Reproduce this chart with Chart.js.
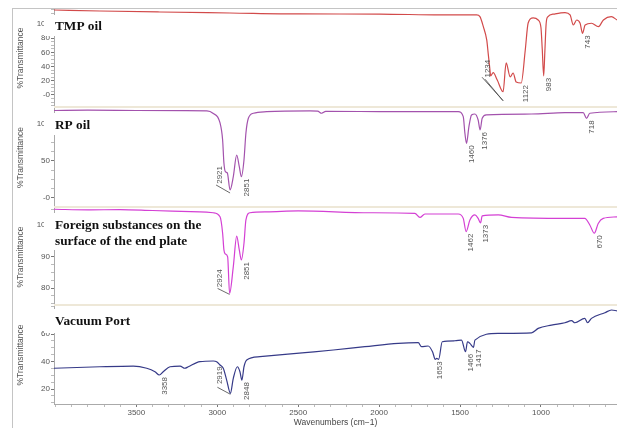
<!DOCTYPE html>
<html>
<head>
<meta charset="utf-8">
<script src="https://cdn.jsdelivr.net/npm/chart.js@4.4.0/dist/chart.umd.min.js"></script>
<style>
  body { margin: 0; background: #fff; }
  #wrap { position: relative; width: 617px; height: 428px; overflow: hidden; background: #fff; }
  canvas { position: absolute; left: 13px; }
  .frameL { position: absolute; left: 12px; top: 8px; width: 1px; height: 420px; background: #c4c4c4; z-index: 2; }
  .frameT { position: absolute; left: 12px; top: 8px; width: 605px; height: 1px; background: #c4c4c4; z-index: 2; }
  .sep { position: absolute; left: 54px; width: 563px; height: 2px; background: #eee8d8; z-index: 2; }
</style>
</head>
<body>
<div id="wrap">
  <canvas id="p1" width="604" height="98" style="top:9px"></canvas>
  <canvas id="p2" width="604" height="99" style="top:108px"></canvas>
  <canvas id="p3" width="604" height="98" style="top:208px"></canvas>
  <canvas id="p4" width="604" height="122" style="top:306px"></canvas>
  <div class="frameL"></div>
  <div class="frameT"></div>
  <div class="sep" style="top:106px"></div>
  <div class="sep" style="top:206px"></div>
  <div class="sep" style="top:304px"></div>
</div>
<script>
// wavenumber range shown (cm-1), drawn right-to-left
const xMin = 530, xMax = 4009;
const xLabels = [3500, 3000, 2500, 2000, 1500, 1000];

// spectra: [wavenumber, %T]
const tmpOil = [[4009,119.7],[3725,118.3],[3354,116.9],[2922,115.5],[2489,114.1],[1995,114],[1624,112.7],[1397,112.7],[1377,110.3],[1356,96.2],[1335,77.5],[1326,58.7],[1315,35.2],[1311,26.8],[1295,31.4],[1270,21.1],[1234,4.6],[1215,45.1],[1190,25.4],[1172,31],[1153,18.3],[1122,16.9],[1097,63],[1079,101.4],[1048,108.5],[1017,105.6],[1000,95],[992,65],[983,27],[976,60],[968,100],[958,110],[920,114],[851,115.9],[820,112.7],[800,98.6],[779,105.6],[758,101],[743,86.9],[727,98.6],[687,101],[645,96.2],[614,105.6],[565,110.3],[530,105.6]];
const rpOil = [[4009,118.2],[3800,118.6],[3500,118.2],[3200,118],[3064,117.8],[3027,114.5],[2983,101.4],[2967,78.4],[2959,47.3],[2950,35.5],[2938,33.8],[2921,10.8],[2901,28.8],[2880,58.1],[2864,42.3],[2851,28.8],[2835,51.4],[2823,87.8],[2808,107.7],[2777,114.5],[2695,116.6],[2427,117.6],[2380,117.4],[2355,114.5],[2330,117],[2000,116.8],[1600,116.6],[1511,116.6],[1480,109.9],[1470,87.8],[1460,73.9],[1445,96.4],[1429,112.2],[1408,113.5],[1388,105.4],[1376,91.9],[1363,107.7],[1337,112.2],[1058,113.5],[852,115.3],[739,115.3],[718,107.7],[698,114.5],[530,116.6]];
const foreign = [[4009,105.0],[3800,104.8],[3600,104.9],[3400,104.6],[3107,104.2],[3025,103.9],[2983,102.6],[2967,97.4],[2959,92.1],[2950,90.8],[2936,89.9],[2924,78.3],[2901,86.8],[2880,96.5],[2864,92.1],[2851,88.9],[2835,94.2],[2823,101.6],[2798,103.9],[2695,104.2],[2500,104.5],[2057,103.9],[1779,103.7],[1748,102.4],[1717,103.5],[1511,103.5],[1480,102.1],[1462,97.9],[1439,101.6],[1408,103.2],[1388,102.1],[1373,100.7],[1363,102.9],[1264,103.2],[1182,102.4],[852,102.1],[729,102.1],[698,100],[670,97.4],[646,100.5],[615,102.1],[530,102.6]];
const vacuumPort = [[4009,35.1],[3725,36.2],[3519,36.7],[3436,35.1],[3385,32.6],[3358,30.2],[3334,32.6],[3292,36.2],[3230,36.7],[3200,35.1],[3179,36.2],[3107,39.9],[3025,40.4],[3004,39.9],[2983,37.5],[2963,35.1],[2942,26.5],[2919,16.9],[2901,27.8],[2876,36.2],[2860,32.6],[2848,26.5],[2835,36.2],[2818,41.1],[2736,43.5],[2458,46.5],[2283,48.4],[2088,50.8],[1882,53.2],[1758,53.7],[1738,50.8],[1697,51.3],[1670,47.1],[1653,41.6],[1645,42.3],[1632,41.6],[1610,54.4],[1532,55.1],[1491,55.6],[1466,47.1],[1454,54.4],[1439,53.2],[1417,50.3],[1408,55.6],[1264,60.5],[1058,60.9],[1017,64.1],[935,66.5],[852,68.2],[811,69.7],[790,68.2],[729,71.4],[712,68.2],[688,71.4],[605,75.5],[564,77.5],[530,76.9]];

// y tick values per panel
const tmpTicks = [0, 20, 40, 60, 80, 100];
const rpTicks = [0, 50, 100];
const foreignTicks = [80, 90, 100];
const vacuumTicks = [20, 40, 60];

// labelled peaks per panel
const tmpPeaks = [1234, 1122, 983, 743];
const rpPeaks = [2921, 2851, 1460, 1376, 718];
const foreignPeaks = [2924, 2851, 1462, 1373, 670];
const vacuumPeaks = [3358, 2919, 2848, 1653, 1466, 1417];

// label placement for peaks that use a leader line
const leaders = {
  1234: { dx: -15, dy: -32, lines: [[0, 9, -21, -14.5], [0, 9, -18, -12.5]] },
  2921: { dx: -10.5, dy: -24, lines: [[0, 3, -14, -5]] },
  2924: { dx: -10, dy: -24, lines: [[0, 1, -12, -5]] },
  2919: { dx: -11, dy: -27, lines: [[0, 1, -13, -6]] }
};

const tickFont = { family: '"Liberation Sans", Arial, sans-serif', size: 8 };
const fmt = v => v === 0 ? '-0' : String(v);

const decor = {
  id: 'decor',
  afterDraw(chart, args, o) {
    const ctx = chart.ctx;
    const xs = chart.scales.x, ys = chart.scales.y;
    const pts = chart.data.datasets[0].data;
    ctx.save();
    ctx.font = '8px "Liberation Sans", Arial, sans-serif';
    ctx.fillStyle = '#555';
    ctx.strokeStyle = '#444';
    ctx.lineWidth = 0.8;
    o.peaks.forEach(wn => {
      const p = pts.find(d => d.x === wn);
      const px = xs.getPixelForValue(p.x), py = ys.getPixelForValue(p.y);
      const s = leaders[wn] || { dx: 5, dy: 2, lines: [] };
      s.lines.forEach(l => {
        ctx.beginPath();
        ctx.moveTo(px + l[0], py + l[1]);
        ctx.lineTo(px + l[2], py + l[3]);
        ctx.stroke();
      });
      ctx.save();
      ctx.translate(px + s.dx, py + s.dy);
      ctx.rotate(-Math.PI / 2);
      ctx.textAlign = 'right';
      ctx.textBaseline = 'middle';
      ctx.fillText(String(wn), 0, 0);
      ctx.restore();
    });
    // pasted title box
    const b = o.box;
    ctx.fillStyle = '#fff';
    ctx.fillRect(b[0], b[1], b[2], b[3]);
    ctx.fillStyle = '#111';
    ctx.font = 'bold 13.3px "Liberation Serif", "Times New Roman", serif';
    ctx.textAlign = 'left';
    ctx.textBaseline = 'alphabetic';
    o.title.forEach((t, i) => ctx.fillText(t, 42, o.titleY + i * 16));
    ctx.restore();
  }
};

function makePanel(id, p) {
  const majors = p.ticks;
  const step = (majors[1] - majors[0]) / 4;
  return new Chart(document.getElementById(id), {
    type: 'line',
    data: {
      datasets: [{
        data: p.data.map(d => ({ x: d[0], y: d[1] })),
        borderColor: p.color,
        borderWidth: 1.2,
        pointRadius: 0,
        cubicInterpolationMode: 'monotone',
        fill: false
      }]
    },
    options: {
      responsive: false,
      animation: false,
      devicePixelRatio: 1,
      layout: { padding: 0 },
      plugins: {
        legend: { display: false },
        tooltip: { enabled: false },
        decor: { peaks: p.peaks, box: p.box, title: p.title, titleY: p.titleY }
      },
      scales: {
        x: {
          type: 'linear',
          reverse: true,
          min: xMin,
          max: xMax,
          display: !!p.showX,
          afterBuildTicks: s => {
            const t = [];
            for (let v = 600; v <= 4000; v += 100) t.push({ value: v });
            s.ticks = t;
          },
          afterFit: s => {
            s.height = p.showX ? 24 : 0;
            s.paddingLeft = 0;
            s.paddingRight = 0;
          },
          ticks: {
            autoSkip: false, maxRotation: 0, padding: 1,
            color: '#555', font: tickFont,
            callback: v => xLabels.includes(v) ? String(v) : ''
          },
          grid: {
            drawOnChartArea: false, drawTicks: true, tickLength: 3,
            tickColor: c => (c.tick && xLabels.includes(c.tick.value)) ? '#777' : '#bbb'
          },
          border: { display: true, color: '#aaa' },
          title: {
            display: true, text: 'Wavenumbers (cm\u22121)', color: '#444',
            font: { family: '"Liberation Sans", Arial, sans-serif', size: 8.5 },
            padding: { top: 0, bottom: 0 }
          }
        },
        y: {
          min: p.yMin,
          max: p.yMax,
          afterBuildTicks: s => {
            const t = [];
            let v = majors[0];
            while (v - step >= p.yMin) v -= step;
            for (; v <= p.yMax; v += step) t.push({ value: +v.toFixed(3) });
            s.ticks = t;
          },
          afterFit: s => { s.width = 41; s.paddingTop = 0; s.paddingBottom = 0; },
          ticks: {
            autoSkip: false, padding: 1, color: '#555', font: tickFont,
            callback: v => majors.includes(v) ? fmt(v) : ''
          },
          grid: {
            drawOnChartArea: false, drawTicks: true, tickLength: 3,
            tickColor: c => (c.tick && majors.includes(c.tick.value)) ? '#777' : '#bbb'
          },
          border: { display: true, color: '#aaa' },
          title: {
            display: true, text: '%Transmittance', color: '#555',
            font: { family: '"Liberation Sans", Arial, sans-serif', size: 8.5 },
            padding: { top: 2.5, bottom: 0 }
          }
        }
      }
    },
    plugins: [decor]
  });
}

makePanel('p1', { data: tmpOil, color: '#d24a4a', yMin: -16.9, yMax: 121.1, ticks: tmpTicks,
  peaks: tmpPeaks, box: [31, 6, 64, 21], title: ['TMP oil'], titleY: 21 });
makePanel('p2', { data: rpOil, color: '#a352ad', yMin: -12.2, yMax: 121.6, ticks: rpTicks,
  peaks: rpPeaks, box: [31, 5, 56, 22], title: ['RP oil'], titleY: 21 });
makePanel('p3', { data: foreign, color: '#d440d4', yMin: 74.3, yMax: 105.4, ticks: foreignTicks,
  peaks: foreignPeaks, box: [31, 5, 161, 37], title: ['Foreign substances on the', 'surface of the end plate'], titleY: 21 });
makePanel('p4', { data: vacuumPort, color: '#363a88', yMin: 9.1, yMax: 80.4, ticks: vacuumTicks,
  peaks: vacuumPeaks, box: [31, 3, 91, 24], title: ['Vacuum Port'], titleY: 19, showX: true });
</script>
</body>
</html>
